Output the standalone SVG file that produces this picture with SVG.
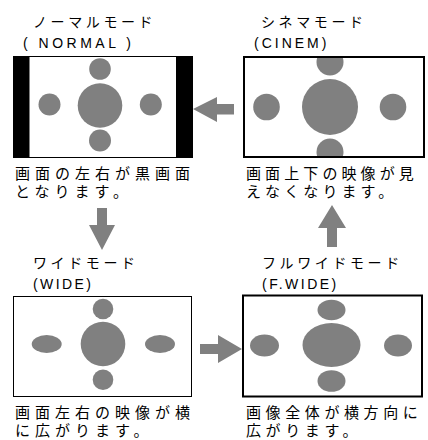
<svg xmlns="http://www.w3.org/2000/svg" width="428" height="440" viewBox="0 0 428 440">
<style>
.t{font-family:"Noto Sans CJK JP","Liberation Sans",sans-serif;font-size:14px;fill:#000;letter-spacing:3.6px}
.e{font-family:"Liberation Sans",Arial,sans-serif;font-size:14px;fill:#000;letter-spacing:2.5px}
.d{font-family:"Noto Sans CJK JP","Liberation Sans",sans-serif;font-size:15px;fill:#000;letter-spacing:5px}
.g{fill:#808080}
.thin{fill:#fff;stroke:#000;stroke-width:1}
.thick{fill:#fff;stroke:#000;stroke-width:2}
</style>
<defs>
<clipPath id="cc"><rect x="245" y="58" width="178" height="98"/></clipPath>
</defs>
<g id="normal">
<rect x="13" y="56" width="180" height="102" fill="#000"/>
<rect x="29.5" y="57" width="146.5" height="100" fill="#fff"/>
<circle class="g" cx="100" cy="69" r="10.8"/>
<circle class="g" cx="100" cy="105.5" r="22.3"/>
<circle class="g" cx="49.5" cy="104.5" r="11"/>
<circle class="g" cx="150.8" cy="104.5" r="11"/>
<circle class="g" cx="100" cy="140.5" r="11"/>
<text class="t" x="33" y="27">ノーマルモード</text>
<text class="e" x="23" y="48" style="letter-spacing:3.5px">( NORMAL )</text>
<text class="d" x="15" y="179">画面の左右が黒画面</text>
<text class="d" x="15" y="197">となります。</text>
</g>
<g id="cinema">
<rect class="thick" x="244" y="57" width="180" height="100"/>
<g clip-path="url(#cc)">
<circle class="g" cx="330" cy="62" r="13.5"/>
<circle class="g" cx="330" cy="107" r="28"/>
<circle class="g" cx="266.5" cy="107" r="13.3"/>
<circle class="g" cx="393" cy="107" r="13.3"/>
<circle class="g" cx="330" cy="152" r="13.5"/>
</g>
<text class="t" x="261" y="27">シネマモード</text>
<text class="e" x="254" y="48" style="letter-spacing:3px">(CINEM)</text>
<text class="d" x="246" y="179" style="letter-spacing:4.1px">画面上下の映像が見</text>
<text class="d" x="246" y="197" style="letter-spacing:4.1px">えなくなります。</text>
</g>
<g id="wide">
<rect class="thin" x="13.5" y="296.5" width="178" height="100"/>
<circle class="g" cx="103" cy="309" r="10.3"/>
<circle class="g" cx="103" cy="344" r="22.3"/>
<ellipse class="g" cx="46.7" cy="344" rx="15" ry="9"/>
<ellipse class="g" cx="160" cy="344" rx="15" ry="9"/>
<circle class="g" cx="103" cy="379.7" r="10.3"/>
<text class="t" x="33" y="268">ワイドモード</text>
<text class="e" x="33" y="289" style="letter-spacing:2.4px">(WIDE)</text>
<text class="d" x="15" y="418">画面左右の映像が横</text>
<text class="d" x="15" y="436">に広がります。</text>
</g>
<g id="fullwide">
<rect class="thick" x="243" y="295.5" width="179" height="101"/>
<ellipse class="g" cx="331.5" cy="310" rx="14" ry="10.3"/>
<ellipse class="g" cx="331.5" cy="345" rx="29" ry="22"/>
<ellipse class="g" cx="264.5" cy="345.5" rx="14.5" ry="11"/>
<ellipse class="g" cx="398" cy="345.5" rx="14" ry="11"/>
<ellipse class="g" cx="331.5" cy="381" rx="14" ry="10.8"/>
<text class="t" x="262" y="268">フルワイドモード</text>
<text class="e" x="262" y="289">(F.WIDE)</text>
<text class="d" x="246" y="418" style="letter-spacing:4.6px">画像全体が横方向に</text>
<text class="d" x="246" y="436" style="letter-spacing:4.6px">広がります。</text>
</g>
<g id="connectors">
<polygon class="g" points="193,109 217,97 217,104 234,104 234,114.5 217,114.5 217,122"/>
<polygon class="g" points="97,208 107,208 107,225 115,225 102,250 89,225 97,225"/>
<polygon class="g" points="200,344 218,344 218,335 242,349 218,363 218,354 200,354"/>
<polygon class="g" points="332,205 346,228 337,228 337,247 327,247 327,228 318,228"/>
</g>
</svg>
